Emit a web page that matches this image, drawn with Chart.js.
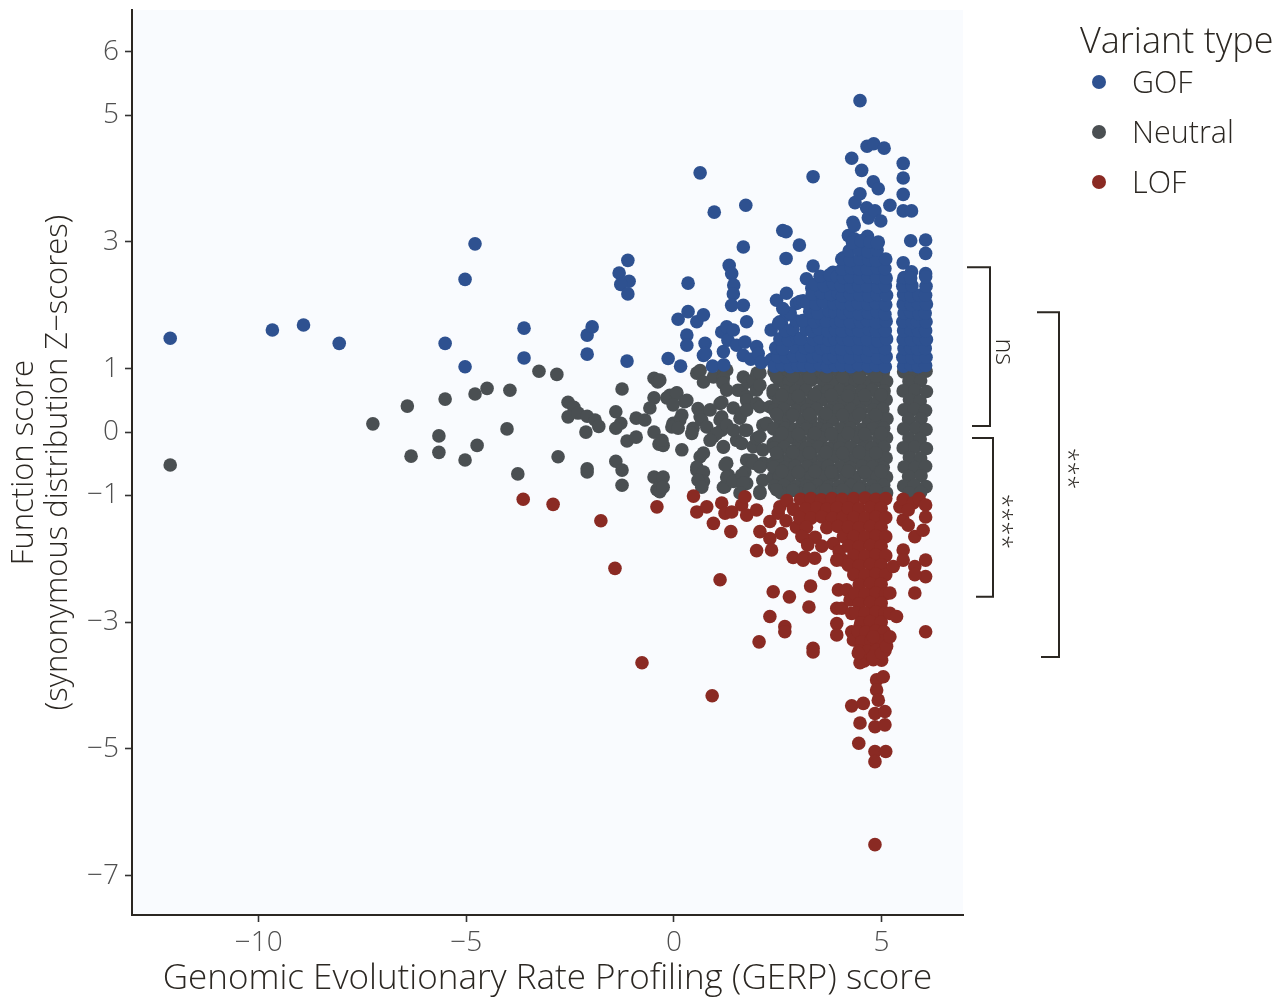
<!DOCTYPE html>
<html>
<head>
<meta charset="utf-8">
<title>Function score vs GERP score</title>
<script src="https://cdn.jsdelivr.net/npm/chart.js@4.4.1/dist/chart.umd.min.js"></script>
<style>
  html, body { margin: 0; padding: 0; background: #ffffff; }
  canvas { display: block; }
</style>
</head>
<body>
<canvas id="chart" width="1280" height="1001"></canvas>
<script>
// ---- data: [GERP score, function Z-score] ----
const gofPoints = [
  [-12.13,1.48],[-9.67,1.61],[-8.92,1.69],[-8.06,1.40],[-5.51,1.40],[-5.03,2.41],[-4.79,2.97],[-5.03,1.03],
  [-3.61,1.64],[-3.61,1.17],[-2.09,1.53],[-1.97,1.66],[-2.09,1.23],[-1.32,2.51],[-1.11,2.71],[-1.08,2.38],
  [-1.28,2.33],[-1.11,2.18],[-1.13,1.12],
  [-0.14,1.16],[0.10,1.78],[0.16,1.04],[0.31,1.53],[0.31,1.37],[0.34,2.35],[0.34,1.90],[0.55,1.74],[0.71,1.85],
  [0.71,1.21],[0.75,1.40],[0.76,1.24],[0.93,1.04],[1.15,1.58],[1.19,1.27],[1.20,1.06],[1.27,1.66],[1.30,1.45],
  [1.33,2.63],[1.39,2.50],[1.44,2.32],[1.43,2.18],[1.39,2.00],[1.43,1.61],[1.51,1.37],[1.67,2.92],[1.67,2.00],
  [1.67,1.21],[1.71,1.42],[1.75,1.74],[1.85,1.15],[1.99,1.35],[2.03,1.24],[2.10,1.10],[2.34,1.14],[2.34,1.61],
  [2.39,1.16],[2.47,2.08],[2.55,1.74],[2.59,1.71],[2.63,1.08],[2.71,1.85],[2.71,2.19],[2.79,1.48],[2.87,1.48],
  [2.95,2.03],[3.03,2.06],[3.11,2.07],[3.19,2.42],[3.32,2.27],[3.35,2.62],[3.83,2.52],[3.89,2.51],[4.08,2.75],
  [0.63,4.09],[0.97,3.47],[1.73,3.58],[2.62,3.18],[2.70,3.16],[2.70,2.74],[3.02,2.95],[3.35,4.03],
  [4.20,3.10],[4.31,3.31],[4.34,3.05],[4.34,3.26],[4.36,3.62],[4.28,4.32],[4.48,3.76],[4.48,5.23],[4.52,4.13],
  [4.64,3.54],[4.65,4.51],[4.66,3.09],[4.68,3.38],[4.80,3.95],[4.81,4.55],[4.84,3.49],[4.92,3.84],[4.92,3.00],
  [4.98,3.33],[5.06,4.48],[5.20,3.58],
  [5.52,4.24],[5.52,4.01],[5.52,3.75],[5.52,3.49],[5.72,3.49],[5.70,3.02],[6.06,3.03],[6.06,2.82],[5.52,2.67],
  [5.72,2.53],[6.06,2.50],[5.52,2.38],
  [2.42,1.04],[2.60,1.06],[2.80,1.03],[2.98,1.05],[2.50,1.19],[2.70,1.18],[2.88,1.20],[2.45,1.33],[2.62,1.31],
  [2.92,1.34],[2.55,1.47],[2.76,1.45],[2.97,1.48],[2.68,1.60],[2.86,1.62],[2.52,1.72],[2.95,1.75],[2.80,1.88],
  [2.62,1.95],
  [3.12,1.05],[3.31,1.04],[3.52,1.06],[3.69,1.03],[3.88,1.05],[3.08,1.20],[3.34,1.18],[3.49,1.21],[3.72,1.17],
  [3.86,1.19],[3.15,1.33],[3.29,1.35],[3.55,1.32],[3.68,1.34],[3.90,1.31],[3.05,1.47],[3.36,1.46],[3.51,1.49],
  [3.74,1.45],[3.87,1.47],[3.18,1.62],[3.33,1.60],[3.48,1.63],[3.71,1.59],[3.89,1.61],[3.10,1.76],[3.38,1.74],
  [3.57,1.77],[3.67,1.75],[3.91,1.73],[3.27,1.90],[3.46,1.88],[3.73,1.91],[3.88,1.89],[3.20,2.04],[3.42,2.02],
  [3.60,2.05],[3.85,2.03],[3.33,2.18],[3.55,2.20],[3.78,2.17],[3.95,2.19],[3.40,2.33],[3.62,2.31],[3.84,2.34],
  [3.52,2.46],[3.75,2.48],[3.93,2.45],
  [4.04,1.05],[4.26,1.03],[4.45,1.06],[4.68,1.04],[4.87,1.05],[5.09,1.03],
  [4.07,1.19],[4.24,1.17],[4.48,1.20],[4.66,1.18],[4.90,1.17],[5.11,1.19],
  [4.03,1.31],[4.27,1.33],[4.44,1.32],[4.69,1.30],[4.86,1.34],[5.08,1.32],
  [4.06,1.47],[4.23,1.45],[4.47,1.47],[4.65,1.46],[4.91,1.44],[5.12,1.47],
  [4.05,1.59],[4.28,1.61],[4.45,1.60],[4.70,1.62],[4.88,1.59],[5.09,1.60],
  [4.02,1.75],[4.25,1.73],[4.49,1.74],[4.66,1.76],[4.87,1.73],[5.11,1.75],
  [4.07,1.88],[4.24,1.90],[4.46,1.87],[4.68,1.88],[4.90,1.89],[5.08,1.86],
  [4.04,2.03],[4.27,2.01],[4.44,2.03],[4.67,2.02],[4.86,2.04],[5.10,2.01],
  [4.06,2.15],[4.25,2.17],[4.48,2.16],[4.69,2.15],[4.89,2.17],[5.12,2.16],
  [4.03,2.31],[4.26,2.29],[4.45,2.31],[4.65,2.30],[4.91,2.29],[5.09,2.31],
  [4.08,2.44],[4.24,2.45],[4.47,2.43],[4.68,2.45],[4.88,2.44],[5.11,2.43],
  [4.05,2.57],[4.27,2.59],[4.46,2.58],[4.66,2.57],[4.90,2.59],[5.08,2.58],
  [4.04,2.73],[4.25,2.71],[4.48,2.73],[4.69,2.72],[4.87,2.71],[5.10,2.73],
  [4.22,2.86],[4.45,2.88],[4.67,2.85],[4.89,2.87],
  [4.30,2.99],[4.50,3.02],[4.72,3.00],[4.90,2.98],
  [5.53,1.04],[5.71,1.06],[5.88,1.03],[6.06,1.05],[5.51,1.18],[5.73,1.17],[5.90,1.19],[6.07,1.18],
  [5.54,1.32],[5.70,1.33],[5.87,1.31],[6.05,1.32],[5.52,1.46],[5.72,1.45],[5.91,1.47],[6.08,1.46],
  [5.53,1.60],[5.71,1.61],[5.89,1.59],[6.06,1.60],[5.51,1.74],[5.74,1.73],[5.86,1.75],[6.07,1.74],
  [5.54,1.88],[5.70,1.89],[5.90,1.87],[6.05,1.88],[5.52,2.02],[5.72,2.01],[5.88,2.03],[6.08,2.02],
  [5.53,2.17],[5.71,2.15],[5.91,2.16],[6.06,2.16],[5.51,2.30],[5.73,2.31],[6.07,2.30],
  [5.54,2.44],[5.70,2.43],[6.06,2.45]
];

const neutralPoints = [
  [-12.13,-0.52],[-7.25,0.13],[-6.42,0.41],[-6.33,-0.38],[-5.51,0.52],[-5.66,-0.06],[-5.66,-0.32],[-5.03,-0.44],
  [-4.79,0.60],[-4.50,0.69],[-4.74,-0.21],[-3.95,0.66],[-4.02,0.05],[-3.76,-0.66],[-3.25,0.96],[-2.82,0.91],
  [-2.79,-0.39],[-2.55,0.47],[-2.41,0.39],[-2.55,0.24],[-2.31,0.30],[-2.09,0.25],[-1.90,0.19],[-1.81,0.09],
  [-2.12,0.00],[-2.09,-0.58],[-2.09,-0.63],[-1.40,0.32],[-1.28,0.14],[-1.40,0.06],[-1.13,-0.14],[-0.91,-0.08],
  [-0.91,0.22],[-0.70,0.19],[-1.25,0.68],[-1.40,-0.46],[-1.25,-0.60],[-1.25,-0.84],[-0.48,0.85],[-0.39,0.79],
  [-0.48,0.54],[-0.58,0.38],[-0.48,0.00],[-0.36,-0.19],[-0.48,-0.71],[-0.41,-0.91],
  [-0.34,0.82],[-0.26,-0.21],[-0.29,-0.13],[-0.17,0.54],[-0.10,0.58],[0.06,0.61],[0.07,0.62],[0.26,0.48],
  [0.31,0.50],[-0.02,0.43],[0.19,0.27],[0.14,0.19],[-0.02,0.14],[-0.05,0.08],[0.10,0.06],[0.19,-0.28],
  [0.46,0.06],[0.58,0.37],[0.63,0.24],[0.67,0.19],[0.43,-0.02],[0.79,0.08],[0.87,0.35],[0.95,-0.07],
  [0.55,0.93],[0.63,0.97],[0.71,0.79],[0.95,0.87],[1.19,0.97],[1.27,0.98],[1.19,0.85],[1.18,0.77],[1.27,0.66],
  [1.11,0.45],[1.15,0.47],[1.15,0.24],[1.11,0.19],[1.15,0.03],[1.03,-0.02],[1.27,0.11],[1.19,-0.23],[1.19,-0.24],
  [1.27,-0.49],[1.31,-0.68],[1.23,-0.86],[1.19,-0.87],[0.63,-0.39],[0.55,-0.60],[0.55,-0.55],[0.71,-0.63],
  [0.71,-0.78],[0.58,-0.76],[0.67,-0.87],[0.71,-0.33],[0.87,-0.13],[-0.34,-0.86],[-0.34,-0.94],[-0.26,-0.71],
  [-0.26,-0.87],[1.23,-0.52],[1.27,-0.71],[1.51,-0.76],[1.43,-0.78],[1.71,-0.63],[1.63,-0.68],[1.75,-0.81],
  [1.67,-0.81],[1.59,-0.96],[1.51,-0.13],[1.43,0.03],[1.43,0.38],[1.54,0.66],[1.59,0.22],[1.63,0.30],
  [1.63,0.66],[1.67,0.87],[1.75,0.56],[1.75,0.50],[1.75,0.35],[1.75,0.03],[1.71,0.03],[1.63,-0.18],
  [1.78,0.79],[1.91,0.82],[2.00,0.93],[2.07,0.93],[1.99,0.66],[2.07,0.74],[1.99,0.45],[2.07,0.40],
  [1.91,-0.23],[1.99,-0.10],[2.07,-0.07],[2.14,0.11],[2.23,0.14],[2.14,-0.28],[1.75,-0.44],[1.88,-0.44],
  [1.91,-0.49],[2.15,-0.49],[2.07,-0.55],[2.14,-0.76],[2.07,-0.94],[2.07,-0.97],[2.39,-0.71],[2.39,-0.49],
  [2.39,-0.18],[2.31,0.40],[2.39,0.61],
  [2.41,0.95],[2.67,0.94],[2.92,0.96],[3.20,0.95],[3.45,0.94],[3.73,0.96],[3.98,0.95],[4.26,0.94],[4.51,0.96],[4.79,0.95],[5.04,0.94],
  [2.54,0.81],[2.78,0.79],[3.07,0.80],[3.31,0.82],[3.60,0.80],[3.84,0.79],[4.13,0.81],[4.37,0.80],[4.66,0.79],[4.90,0.81],[5.12,0.80],
  [2.39,0.66],[2.68,0.64],[2.94,0.65],[3.18,0.66],[3.47,0.64],[3.71,0.65],[4.00,0.66],[4.24,0.64],[4.53,0.65],[4.77,0.66],[5.06,0.65],
  [2.52,0.50],[2.80,0.51],[3.05,0.49],[3.33,0.50],[3.58,0.51],[3.86,0.49],[4.11,0.50],[4.39,0.51],[4.64,0.49],[4.92,0.50],[5.11,0.51],
  [2.42,0.35],[2.65,0.36],[2.93,0.34],[3.21,0.35],[3.44,0.36],[3.73,0.34],[3.97,0.35],[4.27,0.36],[4.50,0.34],[4.80,0.35],[5.03,0.36],
  [2.55,0.20],[2.77,0.21],[3.08,0.19],[3.30,0.20],[3.61,0.21],[3.83,0.19],[4.14,0.20],[4.36,0.21],[4.67,0.19],[4.89,0.20],[5.13,0.21],
  [2.40,0.05],[2.68,0.06],[2.91,0.04],[3.19,0.05],[3.47,0.06],[3.70,0.04],[4.01,0.05],[4.25,0.06],[4.52,0.04],[4.78,0.05],[5.05,0.06],
  [2.53,-0.10],[2.81,-0.09],[3.04,-0.11],[3.34,-0.10],[3.57,-0.09],[3.87,-0.11],[4.10,-0.10],[4.40,-0.09],[4.63,-0.11],[4.93,-0.10],[5.12,-0.09],
  [2.41,-0.25],[2.66,-0.24],[2.95,-0.26],[3.18,-0.25],[3.48,-0.24],[3.72,-0.26],[3.99,-0.25],[4.26,-0.24],[4.54,-0.26],[4.77,-0.25],[5.06,-0.24],
  [2.52,-0.40],[2.79,-0.41],[3.07,-0.39],[3.32,-0.40],[3.60,-0.41],[3.85,-0.39],[4.12,-0.40],[4.38,-0.41],[4.65,-0.39],[4.91,-0.40],[5.11,-0.41],
  [2.40,-0.55],[2.67,-0.56],[2.92,-0.54],[3.20,-0.55],[3.46,-0.56],[3.71,-0.54],[4.00,-0.55],[4.24,-0.56],[4.53,-0.54],[4.79,-0.55],[5.04,-0.56],
  [2.54,-0.70],[2.78,-0.71],[3.06,-0.69],[3.31,-0.70],[3.59,-0.71],[3.84,-0.69],[4.13,-0.70],[4.37,-0.71],[4.66,-0.69],[4.90,-0.70],[5.12,-0.71],
  [2.42,-0.85],[2.65,-0.84],[2.94,-0.86],[3.19,-0.85],[3.45,-0.84],[3.72,-0.86],[3.98,-0.85],[4.27,-0.84],[4.51,-0.86],[4.78,-0.85],[5.05,-0.84],
  [2.58,-0.96],[3.05,-0.97],[3.55,-0.95],[3.90,-0.96],[4.15,-0.97],[4.42,-0.96],[4.70,-0.95],[4.95,-0.97],[5.12,-0.96],
  [2.47,0.87],[2.86,0.88],[3.26,0.86],[3.66,0.88],[4.06,0.87],[4.46,0.86],[4.86,0.88],
  [2.60,0.58],[2.99,0.57],[3.39,0.59],[3.79,0.58],[4.19,0.57],[4.59,0.58],[4.99,0.59],
  [2.47,0.28],[2.86,0.27],[3.26,0.28],[3.66,0.29],[4.06,0.27],[4.46,0.28],[4.86,0.27],
  [2.60,-0.02],[2.99,-0.03],[3.39,-0.02],[3.79,-0.03],[4.19,-0.02],[4.59,-0.03],[4.99,-0.02],
  [2.47,-0.33],[2.86,-0.32],[3.26,-0.33],[3.66,-0.32],[4.06,-0.33],[4.46,-0.32],[4.86,-0.33],
  [2.60,-0.62],[2.99,-0.63],[3.39,-0.62],[3.79,-0.63],[4.19,-0.62],[4.59,-0.63],[4.99,-0.62],
  [2.47,-0.91],[2.86,-0.92],[3.26,-0.90],[3.66,-0.91],[4.06,-0.92],[4.46,-0.90],[4.86,-0.91],
  [5.53,0.95],[5.80,0.94],[6.07,0.96],[5.66,0.80],[5.94,0.81],[5.52,0.65],[5.81,0.66],[6.08,0.64],
  [5.67,0.51],[5.93,0.49],[5.54,0.35],[5.79,0.36],[6.06,0.34],[5.65,0.20],[5.95,0.21],[5.53,0.05],
  [5.82,0.06],[6.07,0.04],[5.66,-0.10],[5.93,-0.11],[5.52,-0.25],[5.80,-0.24],[6.08,-0.26],[5.67,-0.40],
  [5.94,-0.41],[5.54,-0.55],[5.81,-0.56],[6.06,-0.54],[5.65,-0.70],[5.95,-0.69],[5.53,-0.85],[5.79,-0.84],
  [6.07,-0.86],[5.66,-0.96],[5.94,-0.95]
];

const lofPoints = [
  [-3.63,-1.06],[-2.91,-1.14],[-1.76,-1.40],[-1.42,-2.15],[-0.77,-3.64],[-0.41,-1.18],[0.47,-1.01],[0.55,-1.26],
  [0.79,-1.18],[0.92,-4.16],[0.95,-1.44],[1.11,-2.33],[1.15,-1.12],[1.23,-1.28],[1.37,-1.57],[1.39,-1.26],
  [1.63,-1.15],[1.71,-1.02],[1.75,-1.31],[1.99,-1.23],[1.99,-1.87],[2.05,-3.31],[2.07,-1.57],[2.31,-1.41],
  [2.31,-1.68],[2.31,-2.91],[2.35,-1.86],[2.39,-2.52],[2.51,-1.28],[2.55,-1.18],[2.59,-1.60],[2.67,-3.07],
  [2.67,-3.15],[2.70,-1.40],[2.72,-1.08],[2.78,-2.60],[2.87,-1.98],[2.88,-1.22],[2.95,-1.50],[3.15,-1.97],
  [3.19,-1.70],[3.25,-2.76],[3.29,-2.43],[3.35,-3.41],[3.35,-3.47],[3.63,-2.23],[3.92,-2.78],[3.92,-3.02],
  [3.92,-3.20],[3.96,-2.49],[4.04,-2.78],[4.07,-2.02],[4.16,-2.49],[4.24,-2.65],[4.28,-2.86],[4.28,-3.15],
  [4.32,-3.28],[4.48,-3.07],
  [3.05,-1.06],[3.30,-1.05],[3.55,-1.07],[3.80,-1.05],[4.05,-1.06],[3.18,-1.21],[3.44,-1.20],[3.68,-1.22],
  [3.93,-1.20],[3.03,-1.35],[3.30,-1.36],[3.56,-1.34],[3.82,-1.36],[4.07,-1.35],[3.19,-1.50],[3.68,-1.51],
  [3.95,-1.49],[3.08,-1.65],[3.40,-1.66],[3.84,-1.76],[4.08,-1.65],[3.22,-1.78],[3.56,-1.80],[3.98,-1.88],
  [3.11,-2.02],[3.39,-1.99],[3.92,-2.02],
  [4.33,-1.05],[4.60,-1.04],[4.86,-1.06],[5.10,-1.05],[4.20,-1.20],[4.46,-1.21],[4.73,-1.19],[4.99,-1.20],
  [4.33,-1.35],[4.60,-1.36],[4.86,-1.34],[5.10,-1.35],[4.20,-1.50],[4.46,-1.51],[4.73,-1.49],[4.99,-1.50],
  [4.33,-1.65],[4.60,-1.66],[4.86,-1.64],[5.10,-1.65],[4.20,-1.80],[4.46,-1.81],[4.73,-1.79],[4.99,-1.80],
  [4.33,-1.95],[4.60,-1.96],[4.86,-1.94],[5.10,-1.95],[4.20,-2.10],[4.46,-2.11],[4.73,-2.09],[4.99,-2.10],
  [4.33,-2.25],[4.60,-2.26],[4.86,-2.24],[5.10,-2.25],[4.46,-2.41],[4.73,-2.39],[4.99,-2.40],
  [4.35,-2.55],[4.60,-2.56],[4.86,-2.54],[5.10,-2.55],[4.46,-2.71],[4.73,-2.69],[4.99,-2.70],
  [4.38,-2.85],[4.60,-2.86],[4.86,-2.84],[5.08,-2.85],[4.50,-3.01],[4.73,-2.99],[4.99,-3.00],
  [4.44,-3.15],[4.62,-3.16],[4.86,-3.14],[5.06,-3.15],[4.52,-3.31],[4.74,-3.29],[4.98,-3.30],
  [4.46,-3.45],[4.66,-3.46],[4.88,-3.44],[5.08,-3.45],[4.58,-3.61],[4.80,-3.59],[5.00,-3.60],
  [4.88,-3.91],[5.04,-3.86],[4.88,-4.07],[4.92,-4.23],[4.28,-4.32],[4.56,-4.28],[4.48,-4.59],[4.84,-4.44],
  [4.84,-4.65],[5.08,-4.41],[5.08,-4.62],[4.45,-4.91],[4.84,-5.04],[5.10,-5.04],[4.84,-5.20],[4.84,-6.51],
  [4.48,-3.64],[4.44,-3.49],[4.80,-3.54],[5.00,-3.49],[5.12,-3.38],[4.80,-3.23],[5.20,-3.23],[5.20,-2.86],
  [5.20,-2.54],[5.28,-2.12],[5.36,-2.91],
  [5.44,-1.18],[5.52,-1.06],[5.76,-1.12],[5.90,-1.05],[6.06,-1.15],[5.52,-1.39],[5.64,-1.23],[5.64,-1.47],
  [6.06,-1.34],[5.80,-1.65],[6.00,-1.55],[5.52,-1.86],[5.52,-2.02],[5.80,-2.12],[6.06,-2.02],[6.06,-2.28],
  [5.80,-2.25],[5.80,-2.54],[6.06,-3.15]
];

const seriesNames = ['GOF', 'Neutral', 'LOF'];
const seriesColors = ['#2e5190', '#4a4f52', '#8a2a23'];

const xTicks = [-10, -5, 0, 5];
const yTicks = [6, 5, 3, 1, 0, -1, -3, -5, -7];

// significance brackets: label, top and bottom of the bracket in function-score units
const bracketLabels = ['ns', '****', '***'];
const bracketTop = [2.60, -0.095, 1.89];
const bracketBottom = [0.095, -2.60, -3.55];

// ---- drawing ----
const FONT = "'Open Sans', 'Liberation Sans', sans-serif";
const INK = '#2b2722';
const TICK_INK = '#4f4f4f';
const PANEL = '#f9fbfe';

const toXY = pts => pts.map(p => ({ x: p[0], y: p[1] }));
const minusFmt = v => (v < 0 ? '\u2212' + Math.abs(v) : String(v));

// pixel layout of the brackets (vertical bar x, arm lengths, label position)
const bracketStyle = [
  { bar: 990, armTop: 23, armBottom: 18, labelX: 1003, labelShift: 5 },
  { bar: 993, armTop: 21, armBottom: 17, labelX: 1001, labelShift: 4 },
  { bar: 1059, armTop: 22, armBottom: 18, labelX: 1067, labelShift: -16 }
];

const decorations = {
  id: 'decorations',
  beforeDraw(chart) {
    const { ctx, chartArea: a } = chart;
    ctx.save();
    ctx.fillStyle = '#ffffff';
    ctx.fillRect(0, 0, chart.width, chart.height);
    ctx.fillStyle = PANEL;
    ctx.fillRect(a.left, a.top, a.right - a.left, a.bottom - a.top);
    ctx.restore();
  },
  afterDraw(chart) {
    const { ctx } = chart;
    const yScale = chart.scales.y;
    ctx.save();

    // legend
    ctx.fillStyle = INK;
    ctx.textAlign = 'left';
    ctx.textBaseline = 'alphabetic';
    ctx.font = `300 36px ${FONT}`;
    ctx.fillText('Variant type', 1080, 53);
    ctx.font = `300 30.5px ${FONT}`;
    seriesNames.forEach((name, i) => {
      const cy = 82 + i * 50;
      ctx.beginPath();
      ctx.arc(1099, cy, 7, 0, Math.PI * 2);
      ctx.fillStyle = seriesColors[i];
      ctx.fill();
      ctx.fillStyle = INK;
      ctx.fillText(name, 1132, cy + 11);
    });

    // significance brackets
    ctx.strokeStyle = INK;
    ctx.lineWidth = 2;
    bracketLabels.forEach((label, i) => {
      const s = bracketStyle[i];
      const yt = yScale.getPixelForValue(bracketTop[i]);
      const yb = yScale.getPixelForValue(bracketBottom[i]);
      ctx.beginPath();
      ctx.moveTo(s.bar - s.armTop, yt);
      ctx.lineTo(s.bar, yt);
      ctx.lineTo(s.bar, yb);
      ctx.lineTo(s.bar - s.armBottom, yb);
      ctx.stroke();

      ctx.save();
      ctx.translate(s.labelX, (yt + yb) / 2 + s.labelShift);
      ctx.rotate(Math.PI / 2);
      ctx.fillStyle = INK;
      ctx.font = `300 25px ${FONT}`;
      ctx.textAlign = 'center';
      ctx.textBaseline = 'middle';
      ctx.fillText(label, 0, 0);
      ctx.restore();
    });
    ctx.restore();
  }
};

const axisCommon = {
  type: 'linear',
  border: { display: true, color: INK, width: 2 },
  grid: {
    display: true,
    drawOnChartArea: false,
    drawTicks: true,
    tickLength: 7,
    tickColor: '#333333',
    tickWidth: 1.6
  }
};

new Chart(document.getElementById('chart'), {
  type: 'scatter',
  data: {
    datasets: [
      { label: seriesNames[0], data: toXY(gofPoints), backgroundColor: seriesColors[0], order: 2 },
      { label: seriesNames[1], data: toXY(neutralPoints), backgroundColor: seriesColors[1], order: 3 },
      { label: seriesNames[2], data: toXY(lofPoints), backgroundColor: seriesColors[2], order: 1 }
    ]
  },
  options: {
    responsive: false,
    animation: false,
    events: [],
    elements: { point: { radius: 6.8, borderWidth: 0, hoverRadius: 6.8 } },
    layout: { padding: { top: 10, right: 317, left: 0, bottom: 0 } },
    plugins: { legend: { display: false }, tooltip: { enabled: false } },
    scales: {
      x: {
        ...axisCommon,
        min: -13.05,
        max: 6.96,
        afterBuildTicks: s => { s.ticks = xTicks.map(v => ({ value: v })); },
        afterFit: s => { s.height = 86; s.paddingLeft = 0; s.paddingRight = 0; },
        ticks: {
          callback: v => minusFmt(v),
          color: TICK_INK,
          padding: 4,
          maxRotation: 0,
          autoSkip: false,
          font: { family: FONT, size: 28, weight: '300' }
        },
        title: {
          display: true,
          text: 'Genomic Evolutionary Rate Profiling (GERP) score',
          color: INK,
          padding: { top: 0, bottom: 1 },
          font: { family: FONT, size: 35, weight: '300', lineHeight: 1.2 }
        }
      },
      y: {
        ...axisCommon,
        min: -7.62,
        max: 6.66,
        afterBuildTicks: s => { s.ticks = yTicks.map(v => ({ value: v })); },
        afterFit: s => { s.width = 132; s.paddingTop = 0; s.paddingBottom = 0; },
        ticks: {
          callback: v => minusFmt(v),
          color: TICK_INK,
          padding: 6,
          autoSkip: false,
          font: { family: FONT, size: 28, weight: '300' }
        },
        title: {
          display: true,
          text: ['Function score', '(synonymous distribution Z\u2212scores)'],
          color: INK,
          padding: { top: 7, bottom: 0 },
          font: { family: FONT, size: 31, weight: '300', lineHeight: 34 / 31 }
        }
      }
    }
  },
  plugins: [decorations]
});
</script>
</body>
</html>
